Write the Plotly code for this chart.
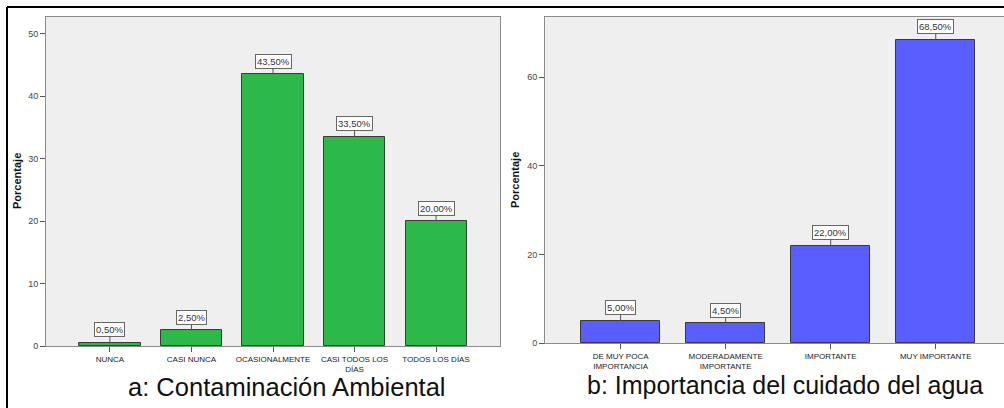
import plotly.graph_objects as go

# Data
cats_a = ["NUNCA", "CASI NUNCA", "OCASIONALMENTE", "CASI TODOS LOS<br>DÍAS", "TODOS LOS DÍAS"]
vals_a = [0.5, 2.5, 43.5, 33.5, 20.0]
cats_b = ["DE MUY POCA<br>IMPORTANCIA", "MODERADAMENTE<br>IMPORTANTE", "IMPORTANTE", "MUY IMPORTANTE"]
vals_b = [5.0, 4.5, 22.0, 68.5]
yticks_a = [0, 10, 20, 30, 40, 50]
yticks_b = [0, 20, 40, 60]
title_a = "a: Contaminación Ambiental"
title_b = "b: Importancia del cuidado del agua"

W, H = 1004, 408
FONT = "Liberation Sans, Arial, sans-serif"

def px_x(p):
    return p / W

def px_y(p):
    return 1 - p / H

def lab(v):
    return f"{v:.2f}".replace(".", ",") + "%"

fig = go.Figure()
fig.add_trace(go.Bar(
    x=list(range(len(cats_a))), y=vals_a, width=0.75,
    marker=dict(color="#2DB84A", line=dict(color="#3a3a3a", width=1)),
    xaxis="x", yaxis="y", showlegend=False, hoverinfo="skip"))
fig.add_trace(go.Bar(
    x=list(range(len(cats_b))), y=vals_b, width=0.75,
    marker=dict(color="#5B5EFF", line=dict(color="#3a3a3a", width=1)),
    xaxis="x2", yaxis="y2", showlegend=False, hoverinfo="skip"))

axis_common = dict(showgrid=False, zeroline=False, showline=True, linecolor="#8a8a8a",
                   linewidth=1, mirror=True, ticks="outside", ticklen=5, tickcolor="#555",
                   tickfont=dict(family=FONT, size=9, color="#444"), fixedrange=True,
                   automargin=False)

fig.update_layout(
    width=W, height=H, margin=dict(l=0, r=0, t=0, b=0, autoexpand=False),
    paper_bgcolor="white", plot_bgcolor="#EFEFEF", bargap=0,
    font=dict(family=FONT),
    xaxis=dict(axis_common, domain=[px_x(46), px_x(500)], range=[-0.784, 4.784],
               tickvals=list(range(len(cats_a))), ticktext=cats_a, anchor="y",
               tickfont=dict(family=FONT, size=8, color="#222")),
    yaxis=dict(axis_common, domain=[px_y(346), px_y(17)], range=[0, 52.7],
               tickvals=yticks_a, anchor="x"),
    xaxis2=dict(axis_common, domain=[px_x(545), 1.0], range=[-0.72, 3.65],
                tickvals=list(range(len(cats_b))), ticktext=cats_b, anchor="y2",
                tickfont=dict(family=FONT, size=8, color="#222")),
    yaxis2=dict(axis_common, domain=[px_y(343), px_y(17)], range=[0, 73.6],
                tickvals=yticks_b, anchor="x2"),
)

annotations = []
for i, v in enumerate(vals_a):
    annotations.append(dict(x=i, y=v, xref="x", yref="y", text=lab(v), showarrow=True,
                            arrowhead=0, arrowwidth=1, arrowcolor="#555", ax=0, ay=-13,
                            bordercolor="#666", borderwidth=1, borderpad=1, bgcolor="white",
                            font=dict(family=FONT, size=9.5, color="#333")))
for i, v in enumerate(vals_b):
    annotations.append(dict(x=i, y=v, xref="x2", yref="y2", text=lab(v), showarrow=True,
                            arrowhead=0, arrowwidth=1, arrowcolor="#555", ax=0, ay=-13,
                            bordercolor="#666", borderwidth=1, borderpad=1, bgcolor="white",
                            font=dict(family=FONT, size=9.5, color="#333")))
# axis titles
annotations.append(dict(x=px_x(17), y=px_y(181), xref="paper", yref="paper", text="<b>Porcentaje</b>",
                        xanchor="center", yanchor="middle",
                        showarrow=False, textangle=-90, font=dict(family=FONT, size=11, color="#111")))
annotations.append(dict(x=px_x(515), y=px_y(180), xref="paper", yref="paper", text="<b>Porcentaje</b>",
                        xanchor="center", yanchor="middle",
                        showarrow=False, textangle=-90, font=dict(family=FONT, size=11, color="#111")))
# captions
annotations.append(dict(x=px_x(287), y=px_y(387), xref="paper", yref="paper", text=title_a,
                        xanchor="center", yanchor="middle",
                        showarrow=False, font=dict(family=FONT, size=25.5, color="#111")))
annotations.append(dict(x=px_x(785), y=px_y(385), xref="paper", yref="paper", text=title_b,
                        xanchor="center", yanchor="middle",
                        showarrow=False, font=dict(family=FONT, size=25, color="#111")))
fig.update_layout(annotations=annotations)

# outer border
fig.add_shape(type="line", xref="paper", yref="paper", x0=px_x(7), x1=1.0, y0=px_y(7), y1=px_y(7),
              line=dict(color="black", width=2))
fig.add_shape(type="line", xref="paper", yref="paper", x0=px_x(7), x1=px_x(7), y0=px_y(7), y1=0,
              line=dict(color="black", width=2))

fig.write_html("out.html", config={"displayModeBar": False},
               post_script="document.body.style.margin='0';document.body.style.overflow='hidden';")
